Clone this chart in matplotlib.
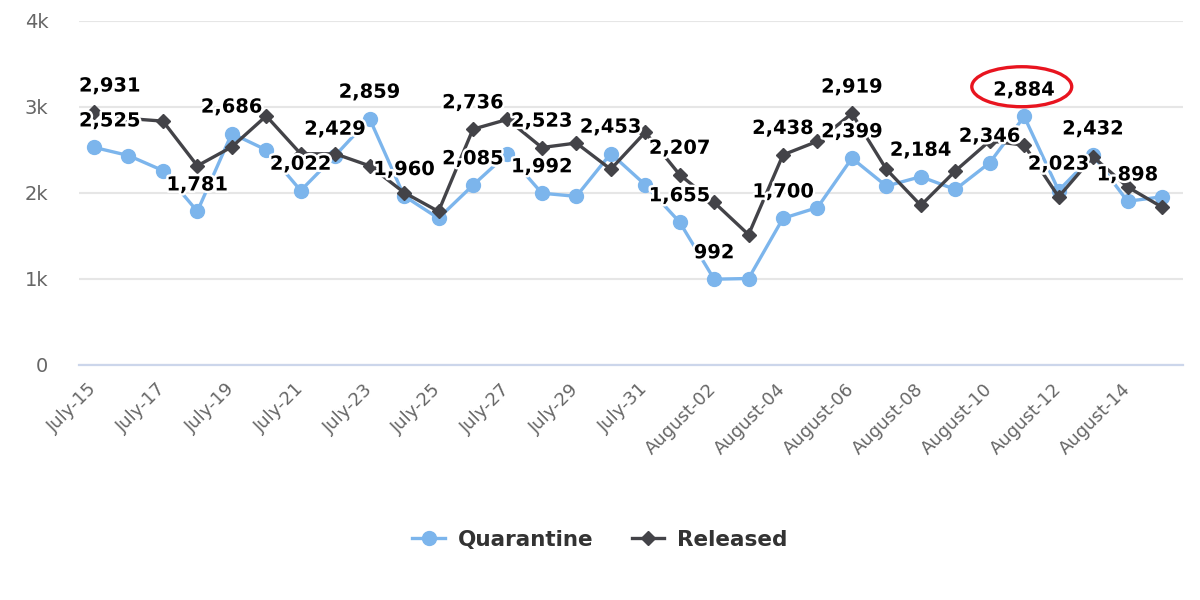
import matplotlib
matplotlib.use("Agg")
import matplotlib.pyplot as plt
import matplotlib.patheffects as pe
from matplotlib.patches import Ellipse
from matplotlib.lines import Line2D

categories = ["July-15", "July-16", "July-17", "July-18", "July-19", "July-20", "July-21",
              "July-22", "July-23", "July-24", "July-25", "July-26", "July-27", "July-28",
              "July-29", "July-30", "July-31", "August-01", "August-02", "August-03",
              "August-04", "August-05", "August-06", "August-07", "August-08", "August-09",
              "August-10", "August-11", "August-12", "August-13", "August-14", "August-15"]

quarantine = [2525, 2430, 2255, 1781, 2686, 2495, 2022, 2429, 2859, 1960, 1700, 2085,
              2450, 1992, 1955, 2453, 2090, 1655, 992, 1000, 1700, 1825, 2399, 2075,
              2184, 2035, 2346, 2884, 2023, 2432, 1898, 1950]

released = [2931, 2860, 2830, 2310, 2530, 2890, 2450, 2450, 2310, 2000, 1780, 2736,
            2850, 2523, 2575, 2270, 2700, 2207, 1885, 1510, 2438, 2595, 2919, 2270,
            1850, 2250, 2600, 2550, 1950, 2415, 2065, 1830]

# points whose data labels are visible in the reference
quarantine_labeled = [0, 3, 4, 6, 7, 8, 9, 11, 13, 15, 17, 18, 20, 22, 24, 26, 27, 28, 29, 30]
released_labeled = [0, 11, 13, 17, 20, 22]

y_ticks = [0, 1000, 2000, 3000, 4000]
y_tick_labels = ["0", "1k", "2k", "3k", "4k"]

highlight_index = 27  # circled label

plt.rcParams['font.family'] = ['DejaVu Sans']

fig = plt.figure(figsize=(12, 6), dpi=100)
ax = fig.add_axes([79 / 1200, 1 - 364.5 / 600, (1183 - 79) / 1200, (364.5 - 20.5) / 600])

x = list(range(len(categories)))
q_color = "#7cb5ec"
r_color = "#434348"

ax.plot(x, quarantine, color=q_color, lw=2.4, marker="o", ms=10, zorder=3,
        label="Quarantine")
ax.plot(x, released, color=r_color, lw=2.4, marker="D", ms=7.5, zorder=4,
        label="Released")

ax.set_xlim(-0.435, 31.61)
ax.set_ylim(0, 4000)

ax.set_yticks(y_ticks)
ax.set_yticklabels(y_tick_labels)
ax.set_xticks(x[::2])
ax.set_xticklabels(categories[::2], rotation=45, ha="right", va="center",
                   rotation_mode="anchor")
ax.tick_params(axis="x", length=0, pad=16, labelsize=13, labelcolor="#666666")
ax.tick_params(axis="y", length=0, pad=22, labelsize=14, labelcolor="#666666")
for lbl in ax.get_yticklabels():
    lbl.set_horizontalalignment("right")

ax.grid(axis="y", color="#e6e6e6", lw=1.5, zorder=0)
ax.set_axisbelow(True)
for side in ["top", "right", "left"]:
    ax.spines[side].set_visible(False)
ax.spines["bottom"].set_color("#ccd6eb")
ax.spines["bottom"].set_linewidth(1.6)

outline = [pe.withStroke(linewidth=3.5, foreground="white")]
anns = []
for series, idxs in ((quarantine, quarantine_labeled), (released, released_labeled)):
    for i in idxs:
        a = ax.annotate(f"{series[i]:,}", xy=(i, series[i]), xytext=(0, 19),
                        textcoords="offset points", ha="center", va="center",
                        fontsize=14, fontweight="bold", color="black", zorder=6,
                        path_effects=outline)
        anns.append(a)

# red ellipse around highlighted label
ell = Ellipse((highlight_index - 0.07, quarantine[highlight_index] + 346), width=2.9, height=465,
              fill=False, edgecolor="#e8141f", lw=2.4, zorder=7)
ax.add_patch(ell)

handles = [Line2D([], [], color=q_color, lw=2.4, marker="o", ms=10),
           Line2D([], [], color=r_color, lw=2.4, marker="D", ms=7.5)]
leg = fig.legend(handles, ["Quarantine", "Released"], loc="center",
                 bbox_to_anchor=(0.5, 0.1), ncol=2, frameon=False,
                 handlelength=1.5, handletextpad=0.6, columnspacing=1.8,
                 prop={"size": 15.5, "weight": "bold"})
for t in leg.get_texts():
    t.set_color("#333333")

# keep labels inside the plot area horizontally
fig.canvas.draw()
renderer = fig.canvas.get_renderer()
axbb = ax.get_window_extent(renderer)
for a in anns:
    bb = a.get_window_extent(renderer)
    dx = 0
    if bb.x0 < axbb.x0:
        dx = axbb.x0 - bb.x0
    elif bb.x1 > axbb.x1:
        dx = axbb.x1 - bb.x1
    if dx:
        ox, oy = a.xyann
        a.xyann = (ox + dx * 72 / fig.dpi, oy)

fig.savefig("out.png", dpi=100, facecolor="white")
